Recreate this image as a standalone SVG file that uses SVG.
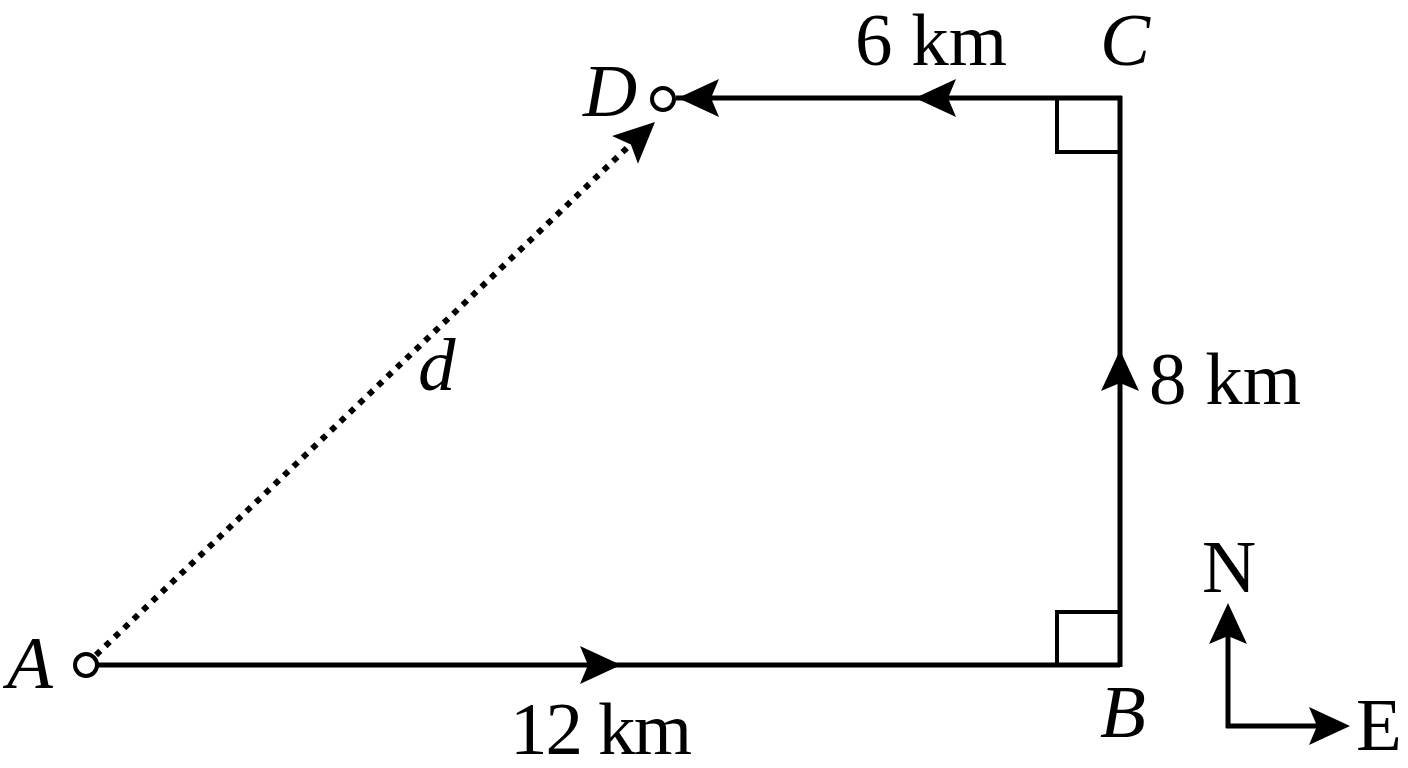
<svg xmlns="http://www.w3.org/2000/svg" width="1408" height="768" viewBox="0 0 1408 768">
<style>
.ln{stroke:#000;stroke-width:5;fill:none}
.bx{stroke:#000;stroke-width:4;fill:none}
.dot{stroke:#000;stroke-width:6;fill:none;stroke-dasharray:6 7}
.pt{stroke:#000;stroke-width:4;fill:#fff}
.t{font-family:"Liberation Serif","Times New Roman",serif;font-size:75px;fill:#000}
.i{font-style:italic}
</style>
<defs>
<path id="ah" d="M0,0 L-41,-19 L-33,0 L-41,19 Z" fill="#000"/>
</defs>
<g id="connectors">
<line class="ln" x1="97" y1="665" x2="1120" y2="665"/>
<line class="ln" x1="1120" y1="667" x2="1120" y2="96"/>
<line class="ln" x1="1122" y1="98" x2="676" y2="98"/>
<line class="dot" x1="96" y1="655" x2="630" y2="145"/>
<use href="#ah" transform="translate(621,665)"/>
<use href="#ah" transform="translate(1120,350) rotate(-90)"/>
<use href="#ah" transform="translate(915,98) rotate(180)"/>
<use href="#ah" transform="translate(678,98) rotate(180)"/>
<use href="#ah" transform="translate(655,122) rotate(-43)"/>
<polyline class="bx" points="1057,98 1057,152 1120,152"/>
<polyline class="bx" points="1057,665 1057,612 1120,612"/>
</g>
<g id="A"><circle class="pt" cx="86" cy="665" r="11"/><text class="t i" x="7" y="688">A</text></g>
<g id="B"><text class="t i" x="1100" y="737">B</text></g>
<g id="C"><text class="t i" x="1100" y="65">C</text></g>
<g id="D"><circle class="pt" cx="663" cy="99" r="11"/><text class="t i" x="583" y="116">D</text></g>
<g id="labels">
<text class="t" x="855" y="65">6 km</text>
<text class="t" x="1149" y="404">8 km</text>
<text class="t" x="510" y="754" textLength="182">12 km</text>
<text class="t i" x="418" y="390">d</text>
</g>
<g id="compass">
<line class="ln" x1="1228" y1="728" x2="1228" y2="620"/>
<line class="ln" x1="1226" y1="726" x2="1335" y2="726"/>
<use href="#ah" transform="translate(1228,603) rotate(-90)"/>
<use href="#ah" transform="translate(1350,726)"/>
<text class="t" x="1202" y="592">N</text>
<text class="t" x="1356" y="750">E</text>
</g>
</svg>
